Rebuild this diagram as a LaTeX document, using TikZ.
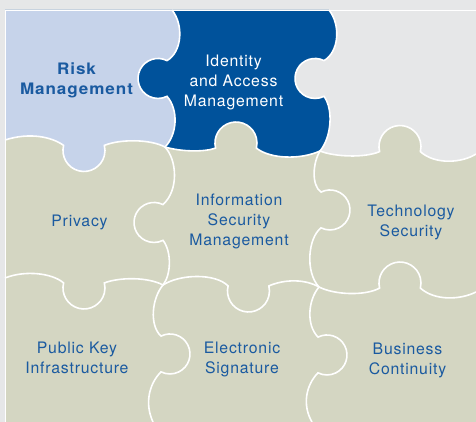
\documentclass[tikz,border=0pt]{standalone}
\usepackage{fontspec}
\setmainfont{TeX Gyre Heros}[LetterSpace=5]
\newfontfamily\riskfont{TeX Gyre Heros}[LetterSpace=6, FakeStretch=1.08]
\usepackage{tikz}
\usetikzlibrary{calc}

\definecolor{riskblue}{HTML}{C6D3EA}
\definecolor{idblue}{HTML}{00529B}
\definecolor{sage}{HTML}{D4D6C2}
\definecolor{bggray}{HTML}{E6E7E8}
\definecolor{textblue}{HTML}{1A5AA0}
\newcommand\piecesize{\fontsize{15.8}{20}\selectfont}

\begin{document}
\begin{tikzpicture}[
		x=1pt, y=-1pt,
		seam/.style={draw=white, line width=1.6pt},
		piece text/.style={font=\piecesize, align=center, text=textblue, inner sep=0pt},
		knob down/.style={insert path={arc[start angle=166, end angle=374, radius=21pt]}},
		knob up/.style={insert path={arc[start angle=194, end angle=-14, radius=21pt]}},
		knob left/.style={insert path={arc[start angle=63.3, end angle=296.7, radius=20pt]}},
		knob right/.style={insert path={arc[start angle=116.7, end angle=-116.7, radius=20pt]}},
		row seam one/.style={insert path={
			.. controls (30,132) and (52,137) .. (63.6,145.4) [knob down]
			.. controls (120,139) and (150,139) .. (165,147)
			.. controls (182,152) and (205,152) .. (215.6,148.1) [knob up]
			.. controls (270,159) and (300,160) .. (320,151)
			.. controls (335,157) and (365,158) .. (379.6,151.6) [knob up]
			.. controls (435,165) and (462,163) .. (476,154)}},
		row seam two/.style={insert path={
			.. controls (25,270) and (52,273) .. (63.6,282.9) [knob down]
			.. controls (120,277) and (148,277) .. (163,285)
			.. controls (180,274) and (215,273) .. (228.1,285.9) [knob down]
			.. controls (285,279) and (305,279) .. (319,287)
			.. controls (335,295) and (365,296) .. (379.6,288.1) [knob up]
			.. controls (435,301) and (460,300) .. (476,292)}},
		col seam one/.style={insert path={
			.. controls (184,25) and (182,52) .. (167,60.6) [knob left]
			.. controls (179,110) and (177,135) .. (165,147)
			.. controls (177,160) and (179,190) .. (163,204.6) [knob left]
			.. controls (172,252) and (171,275) .. (163,285)
			.. controls (152,298) and (149,325) .. (161,336.1) [knob right]
			.. controls (148,385) and (145,405) .. (153,422)}},
		col seam two/.style={insert path={
			.. controls (341,25) and (339,52) .. (324,60.6) [knob left]
			.. controls (334,110) and (331,138) .. (320,151)
			.. controls (313,162) and (311,185) .. (321,192.1) [knob right]
			.. controls (308,238) and (305,272) .. (319,287)
			.. controls (308,300) and (306,325) .. (318,337.1) [knob right]
			.. controls (306,385) and (302,405) .. (312,422)}}
		]
		
		\useasboundingbox (0,0) rectangle (476,422);
		\fill[bggray] (0,0) rectangle (476,422);
		\fill[sage] (5,10) rectangle (476,422);
		
		% Top row pieces
		\begin{scope}
			\clip (5,10) -- (5,140) [row seam one] -- (476,10) -- cycle;
			\fill[bggray] (5,10) rectangle (476,200);
			\fill[idblue] (5,10) -- (329,10) [col seam two] -- (5,422) -- cycle;
			\fill[riskblue] (5,10) -- (172,10) [col seam one] -- (5,422) -- cycle;
		\end{scope}
		
		% Seams
		\draw[seam] (5,140) [row seam one];
		\draw[seam] (5,278) [row seam two];
		\draw[seam] (172,10) [col seam one];
		\draw[seam] (329,10) [col seam two];
		\draw[white, line width=0.8pt] (5,422) -- (5,10) -- (476,10);
		
		% Labels
		\node[piece text, font=\piecesize\riskfont\bfseries] (risk) at (76.5,80.4) {Risk\\Management};
		\node[piece text, text=white] (identity) at (233.5,82) {Identity\\and Access\\Management};
		\node[piece text] (privacy) at (79.5,222.6) {Privacy};
		\node[piece text] (infosec) at (239,221) {Information\\Security\\Management};
		\node[piece text] (techsec) at (411,222) {Technology\\Security};
		\node[piece text] (pki) at (77,357.7) {Public Key\\Infrastructure};
		\node[piece text] (esign) at (242,359) {Electronic\\Signature};
		\node[piece text] (continuity) at (407.5,360.5) {Business\\Continuity};
		
	\end{tikzpicture}
\end{document}
